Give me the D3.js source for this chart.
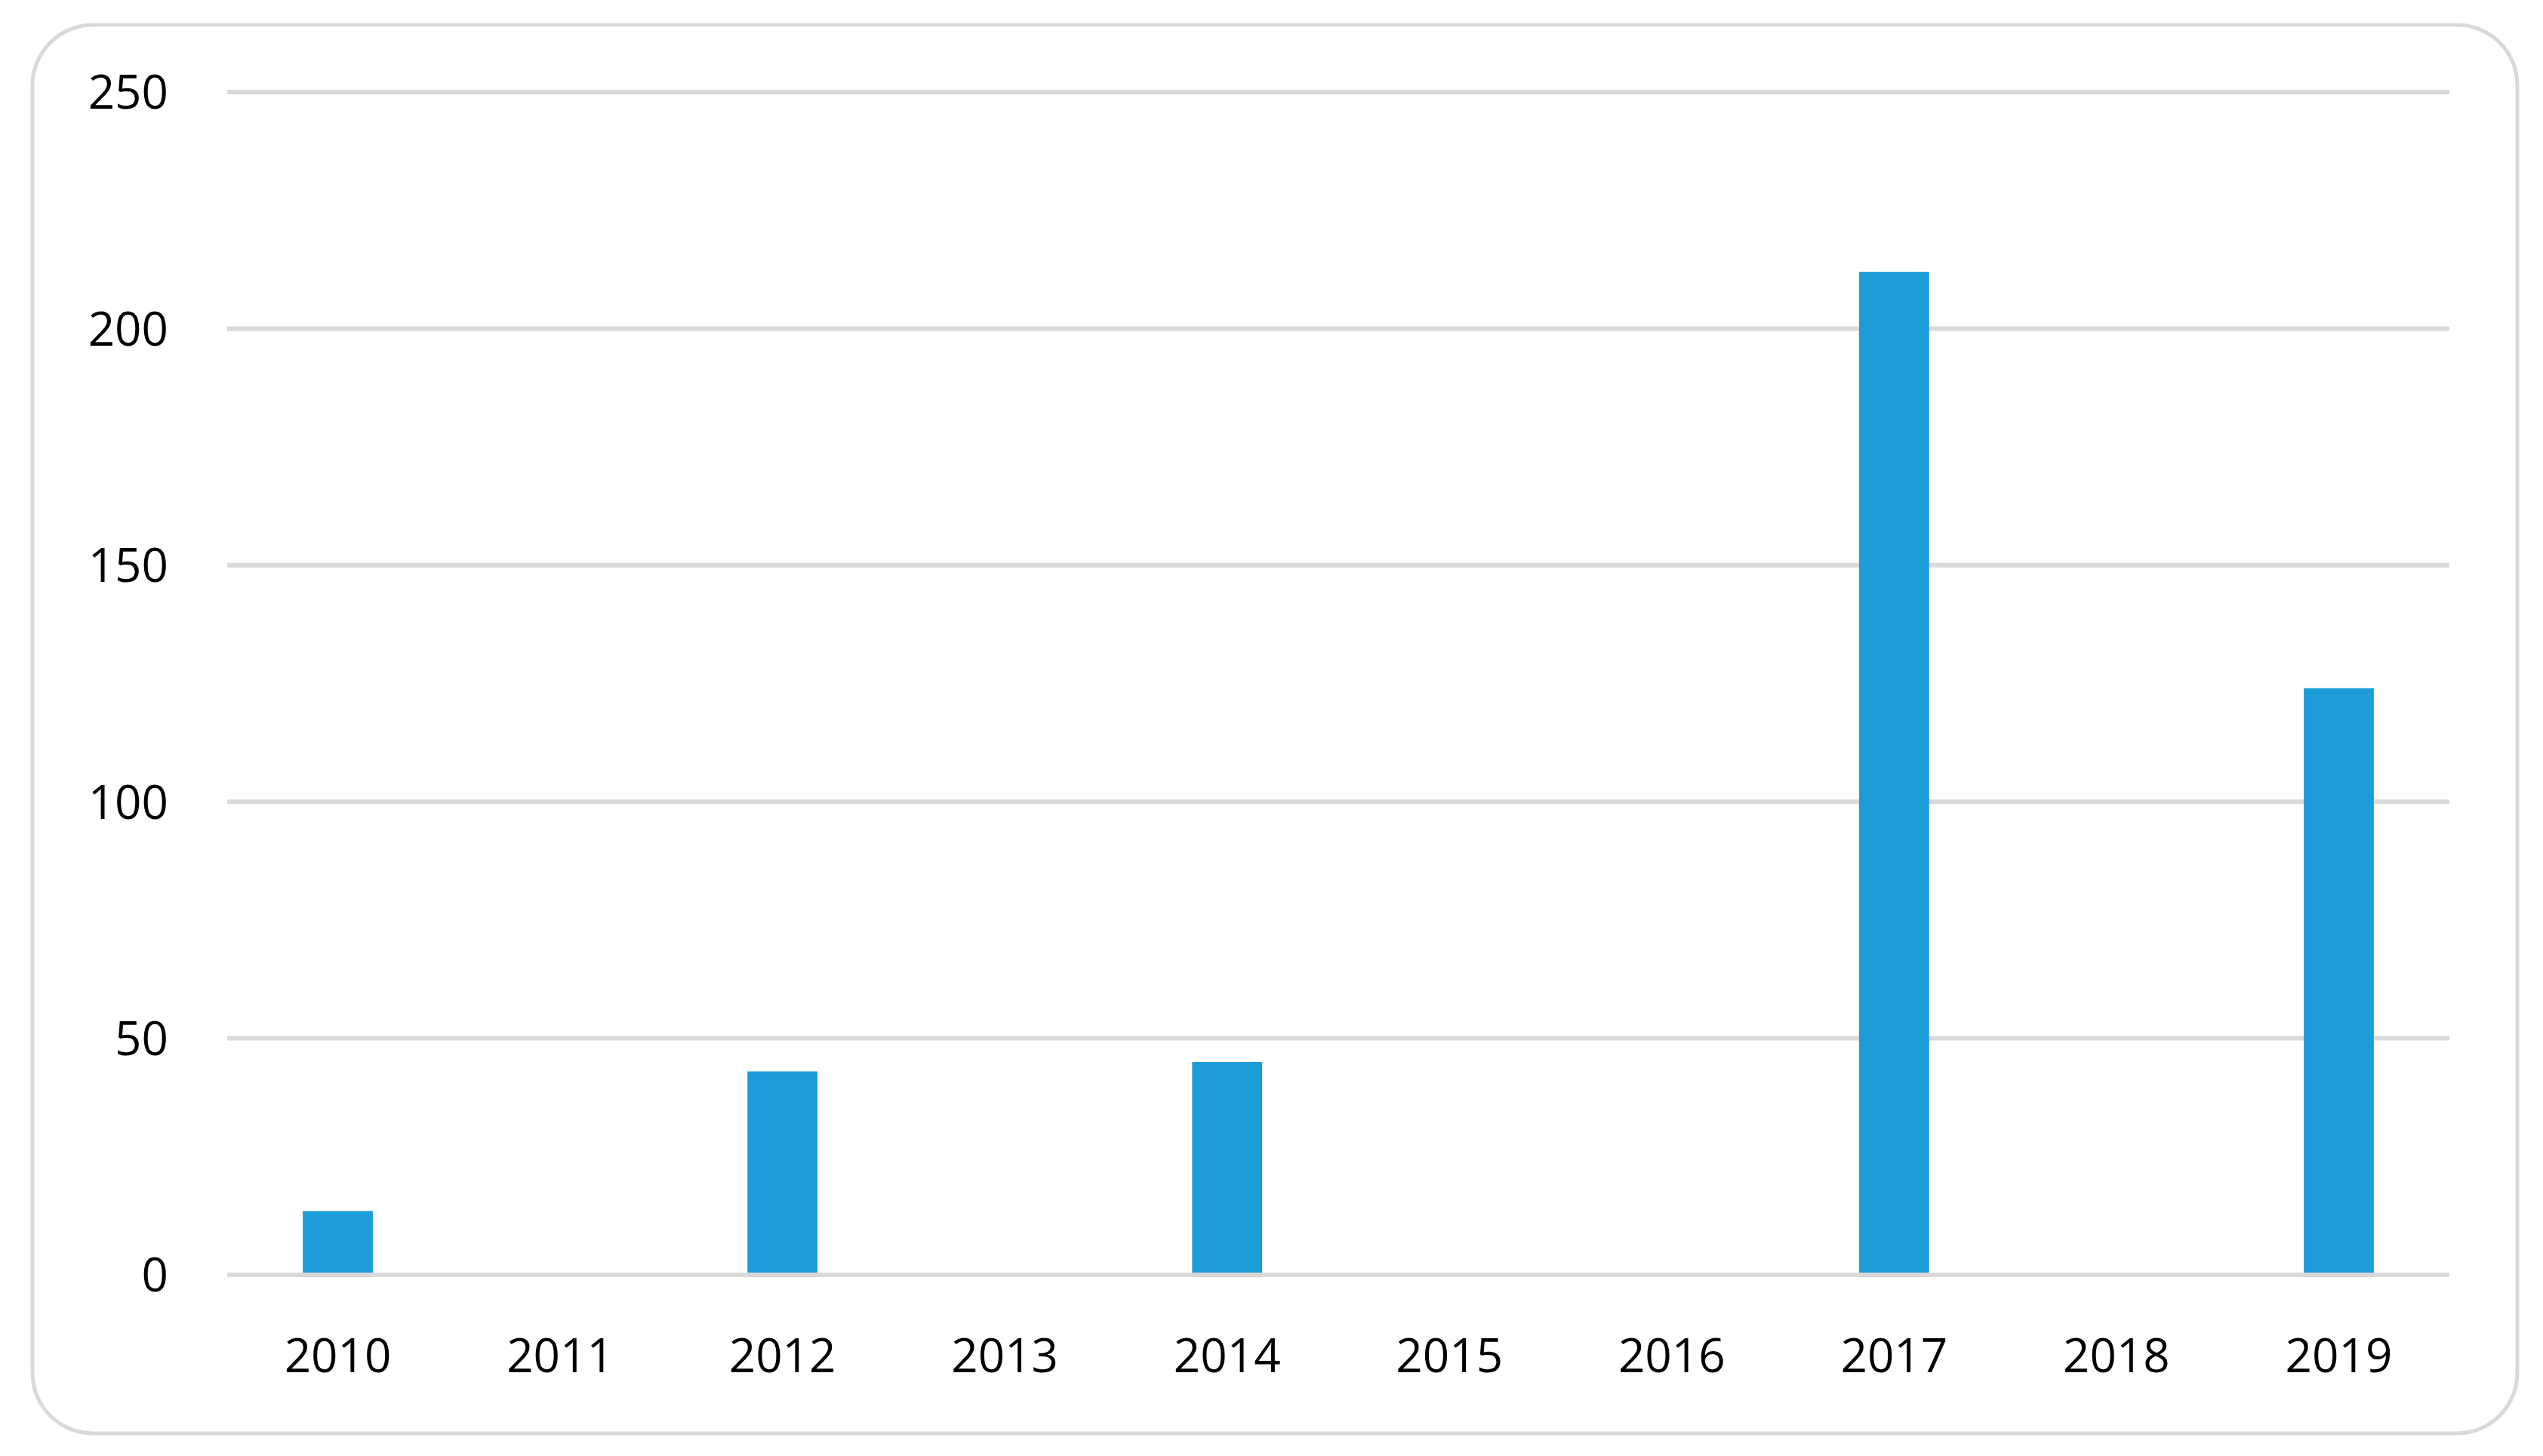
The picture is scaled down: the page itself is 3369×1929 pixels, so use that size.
<!DOCTYPE html>
<html>
<head>
<meta charset="utf-8">
<script src="https://cdn.jsdelivr.net/npm/d3@7"></script>
<style>
  body { margin: 0; background: #fff; }
  text { font-family: "Open Sans", "Liberation Sans", sans-serif; fill: #000; }
</style>
</head>
<body>
<div id="chart"></div>
<script>
// data
const years = ["2010", "2011", "2012", "2013", "2014", "2015", "2016", "2017", "2018", "2019"];
const counts = [13.5, 0, 43, 0, 45, 0, 0, 212, 0, 124];
const yTicks = [0, 50, 100, 150, 200, 250];

const W = 3369, H = 1929;
const plot = {left: 301, right: 3245, top: 122, bottom: 1689};

const svg = d3.select("#chart").append("svg")
    .attr("width", W)
    .attr("height", H);

// rounded frame
svg.append("rect")
    .attr("x", 43).attr("y", 33)
    .attr("width", 3292).attr("height", 1866)
    .attr("rx", 80).attr("ry", 80)
    .attr("fill", "#fff")
    .attr("stroke", "#d9d9d9")
    .attr("stroke-width", 5);

let x = d3.scaleBand()
    .domain(years)
    .range([plot.left, plot.right])
    .paddingInner(0.685)
    .paddingOuter(0.34);

let y = d3.scaleLinear()
    .domain([0, 250])
    .range([plot.bottom, plot.top]);

// gridlines
svg.append("g")
    .selectAll("line")
    .data(yTicks)
    .join("line")
    .attr("x1", plot.left)
    .attr("x2", plot.right)
    .attr("y1", d => y(d))
    .attr("y2", d => y(d))
    .attr("stroke", "#d9d9d9")
    .attr("stroke-width", 6);

// y labels
svg.append("g")
    .selectAll("text")
    .data(yTicks)
    .join("text")
    .attr("x", 223)
    .attr("y", d => y(d))
    .attr("dy", "0.36em")
    .attr("text-anchor", "end")
    .style("font-size", "62px")
    .text(d => d);

// bars
svg.append("g")
    .selectAll("rect")
    .data(years.map((k, i) => ({key: k, value: counts[i]})).filter(d => d.value > 0))
    .join("rect")
    .attr("x", d => x(d.key))
    .attr("y", d => y(d.value))
    .attr("width", x.bandwidth())
    .attr("height", d => y(0) - y(d.value) - 3)
    .attr("fill", "#1e9cd8");

// x labels
svg.append("g")
    .selectAll("text")
    .data(years)
    .join("text")
    .attr("x", d => x(d) + x.bandwidth() / 2)
    .attr("y", 1818)
    .attr("text-anchor", "middle")
    .style("font-size", "62px")
    .text(d => d);
</script>
</body>
</html>
